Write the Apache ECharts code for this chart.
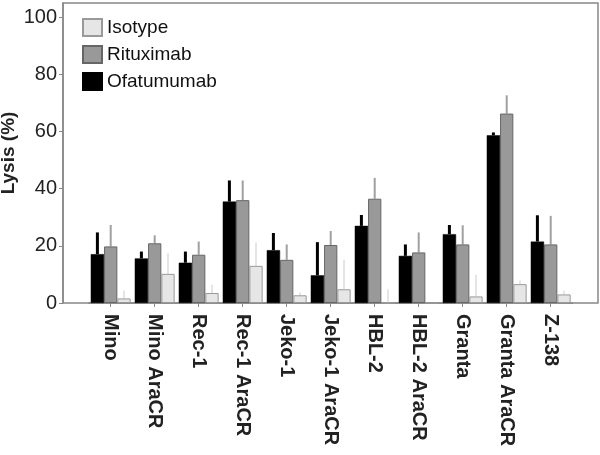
<!DOCTYPE html>
<html lang="en">
<head>
    <meta charset="UTF-8">
    <title>Lysis</title>
    <script src="https://cdn.jsdelivr.net/npm/echarts@6/dist/echarts.min.js"></script>
    <style>
        html, body{
            margin: 0;
            padding: 0;
            background: #fff;
        }
        #box{
            width: 600px;
            height: 455px;
        }
    </style>
</head>
<body>
<div id="box"></div>
<script>
    // cell lines
    var categories = ['Mino', 'Mino AraCR', 'Rec-1', 'Rec-1 AraCR', 'Jeko-1', 'Jeko-1 AraCR',
        'HBL-2', 'HBL-2 AraCR', 'Granta', 'Granta AraCR', 'Z-138'];
    // mean lysis (%)
    var ofatumumab = [17.1, 15.6, 14.1, 35.5, 18.5, 9.7, 27.0, 16.5, 24.1, 58.7, 21.5];
    var rituximab  = [19.8, 20.9, 16.9, 36.0, 15.1, 20.3, 36.5, 17.7, 20.5, 66.3, 20.5];
    var isotype    = [1.6, 10.2, 3.5, 13.0, 2.7, 4.8, 0, 0, 2.3, 6.6, 3.0];
    // upper error (sd)
    var ofatumumabErr = [7.6, 2.4, 3.9, 7.4, 6.0, 11.6, 3.8, 4.0, 3.2, 1.0, 9.2];
    var rituximabErr  = [7.5, 2.8, 4.6, 6.9, 5.4, 4.9, 7.3, 7.0, 6.7, 6.4, 10.0];
    var isotypeErr    = [2.8, 7.2, 2.9, 8.2, 1.1, 10.3, 4.7, 0, 7.6, 1.3, 1.3];
    var yTicks = [0, 20, 40, 60, 80, 100];

    var BAR_W = 13.3;
    var FONT = 'Liberation Sans, Arial, sans-serif';

    function errData(vals, errs){
        var out = [];
        for(var i=0; i<vals.length; i++){
            out.push([i, vals[i], vals[i] + errs[i]]);
        }
        return out;
    }

    function errSeries(name, vals, errs, offset, color, width){
        return {
            name: name,
            type: 'custom',
            xAxisIndex: 1,
            yAxisIndex: 1,
            z: 1,
            silent: true,
            data: errData(vals, errs),
            renderItem: function(params, api){
                var base = api.coord([api.value(0), api.value(1)]);
                var top = api.coord([api.value(0), api.value(2)]);
                if(api.value(2) <= api.value(1)) return null;
                return {
                    type: 'line',
                    shape: {x1: base[0] + offset, y1: base[1], x2: top[0] + offset, y2: top[1]},
                    style: {stroke: color, lineWidth: width}
                };
            }
        };
    }

    var myChart = echarts.init(document.getElementById('box'));
    var option = {
        animation: false,
        textStyle: {fontFamily: FONT},
        legend: {
            data: ['Isotype', 'Rituximab', 'Ofatumumab'],
            orient: 'vertical',
            left: 77,
            top: 13,
            itemWidth: 19,
            itemHeight: 17,
            itemGap: 8,
            icon: 'rect',
            textStyle: {fontSize: 19, color: '#111', fontFamily: FONT}
        },
        grid: [
            {left: 63, right: 2, top: 3, bottom: 152, show: true, borderColor: '#888', borderWidth: 1.5, outerBoundsMode: 'none'},
            {left: 88.7, right: 27.3, top: 3, bottom: 152, outerBoundsMode: 'none'}
        ],
        xAxis: [
            {gridIndex: 0, type: 'value', show: false},
            {
                gridIndex: 1,
                type: 'category',
                data: categories,
                axisLine: {show: true, lineStyle: {color: '#888', width: 1.5}},
                axisTick: {show: true, alignWithLabel: true, length: 4, lineStyle: {color: '#888'}},
                axisLabel: {
                    interval: 0,
                    rotate: -90,
                    margin: 11,
                    fontSize: 20,
                    fontWeight: 'bold',
                    color: '#222',
                    fontFamily: FONT
                }
            }
        ],
        yAxis: [
            {
                gridIndex: 0,
                type: 'value',
                min: 0,
                max: 105,
                name: 'Lysis (%)',
                nameLocation: 'middle',
                nameGap: 45,
                nameMoveOverlap: false,
                nameTextStyle: {fontSize: 19, fontWeight: 'bold', color: '#222', fontFamily: FONT},
                axisLine: {show: true, lineStyle: {color: '#888', width: 1.5}},
                axisTick: {show: true, length: 4, customValues: yTicks, lineStyle: {color: '#888'}},
                axisLabel: {customValues: yTicks, fontSize: 20, color: '#222', margin: 6, fontFamily: FONT},
                splitLine: {show: false}
            },
            {gridIndex: 1, type: 'value', min: 0, max: 105, show: false}
        ],
        series: [
            {
                name: 'Ofatumumab',
                type: 'bar',
                xAxisIndex: 1,
                yAxisIndex: 1,
                barWidth: BAR_W,
                barGap: '0%',
                itemStyle: {color: '#000', borderColor: '#000', borderWidth: 0.5},
                data: ofatumumab
            },
            {
                name: 'Rituximab',
                type: 'bar',
                xAxisIndex: 1,
                yAxisIndex: 1,
                barWidth: BAR_W,
                barGap: '0%',
                itemStyle: {color: '#999', borderColor: '#666', borderWidth: 1},
                data: rituximab
            },
            {
                name: 'Isotype',
                type: 'bar',
                xAxisIndex: 1,
                yAxisIndex: 1,
                barWidth: BAR_W,
                barGap: '0%',
                itemStyle: {color: '#e6e6e6', borderColor: '#999', borderWidth: 1},
                data: isotype
            },
            errSeries('ofaErr', ofatumumab, ofatumumabErr, -BAR_W, '#000', 3),
            errSeries('ritErr', rituximab, rituximabErr, 0, '#a0a0a0', 2),
            errSeries('isoErr', isotype, isotypeErr, BAR_W, '#dcdcdc', 1.5)
        ]
    };
    myChart.setOption(option);
</script>
</body>
</html>
